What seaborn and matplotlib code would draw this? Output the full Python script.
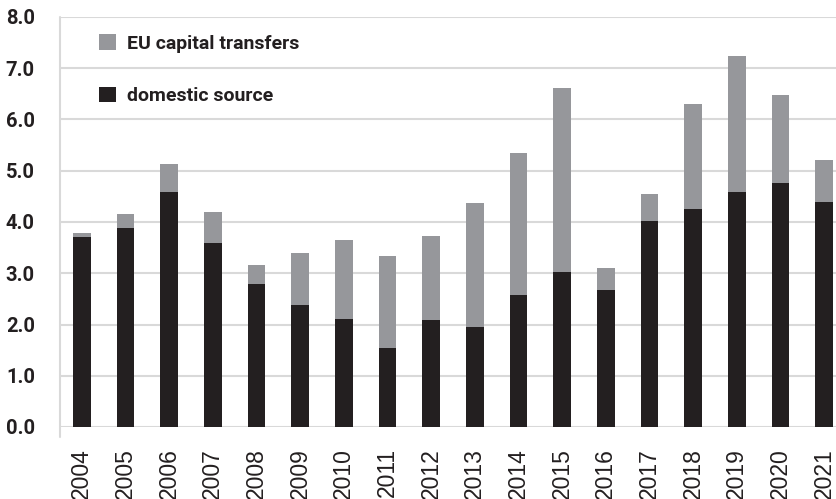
import matplotlib
matplotlib.use("Agg")
import matplotlib.pyplot as plt
import seaborn as sns
import pandas as pd
from matplotlib.patches import Patch
from matplotlib.lines import Line2D

years = ["2004", "2005", "2006", "2007", "2008", "2009", "2010", "2011", "2012",
         "2013", "2014", "2015", "2016", "2017", "2018", "2019", "2020", "2021"]
domestic = [3.71, 3.89, 4.59, 3.59, 2.79, 2.38, 2.11, 1.54, 2.09,
            1.95, 2.58, 3.03, 2.68, 4.02, 4.26, 4.59, 4.77, 4.39]
total = [3.79, 4.16, 5.14, 4.20, 3.16, 3.40, 3.65, 3.34, 3.73,
         4.37, 5.35, 6.62, 3.11, 4.55, 6.31, 7.23, 6.48, 5.20]
yticks = [0, 1, 2, 3, 4, 5, 6, 7, 8]

GRAY = "#96979b"
DARK = "#231f20"
GRID = "#d9d9d9"

df = pd.DataFrame({"year": years, "domestic": domestic, "total": total})

sns.set_theme(style="white")
plt.rcParams["font.family"] = ["Roboto", "Liberation Sans", "DejaVu Sans"]

fig = plt.figure(figsize=(8.37, 4.99), dpi=100)
ax = fig.add_axes([60 / 837, 1 - 427 / 499, 786 / 837, 410 / 499])

sns.barplot(data=df, x="year", y="total", color=GRAY, width=0.41, saturation=1,
            linewidth=0, ax=ax)
sns.barplot(data=df, x="year", y="domestic", color=DARK, width=0.41, saturation=1,
            linewidth=0, ax=ax)

ax.set_xlim(-0.5, len(years) - 0.5)
ax.set_ylim(0, 8)
ax.set_yticks(yticks)
ax.set_yticklabels([f"{v:.1f}" for v in yticks], fontsize=14.5, fontweight="bold",
                   color="#231f20")
ax.yaxis.grid(True, color=GRID, linewidth=1.5)
ax.set_axisbelow(True)
ax.tick_params(axis="y", length=8, width=1.5, color=GRID, pad=10)
ax.tick_params(axis="x", length=0, pad=15)
for lab in ax.get_xticklabels():
    lab.set_rotation(90)
    lab.set_fontsize(16.5)
    lab.set_family(["Liberation Sans", "DejaVu Sans"])
    lab.set_color("#231f20")
ax.set_xlabel("")
ax.set_ylabel("")
for s in ["top", "right", "bottom", "left"]:
    ax.spines[s].set_visible(False)
ax.add_line(Line2D([-0.5, -0.5], [-0.2, 8], color=GRID, linewidth=1.5, clip_on=False))

handles = [Patch(facecolor=GRAY, edgecolor="none", label="EU capital transfers"),
           Patch(facecolor=DARK, edgecolor="none", label="domestic source")]
leg = ax.legend(handles=handles, loc="upper left", bbox_to_anchor=(0.05, 0.958),
                frameon=False, prop={"size": 14, "weight": "bold"},
                handlelength=0.85, handleheight=0.85, handletextpad=0.6,
                labelspacing=1.75, borderpad=0, borderaxespad=0)
for t in leg.get_texts():
    t.set_color("#231f20")

fig.savefig("out.png", dpi=100)
